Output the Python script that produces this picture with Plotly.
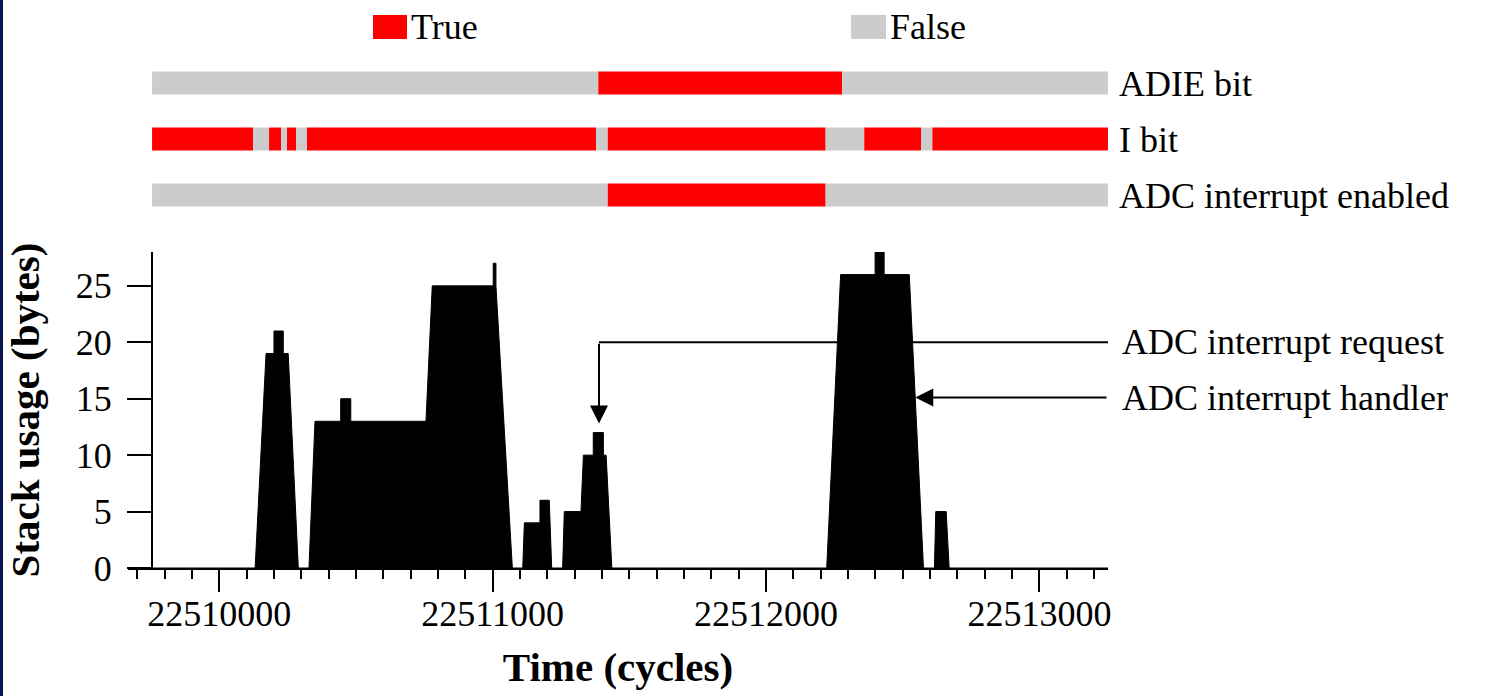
import plotly.graph_objects as go

# ---------------- data ----------------
# stack usage profile (time in cycles, bytes)
STACK_T = [
    22509754, 22510131, 22510171, 22510200, 22510200, 22510234, 22510234, 22510252, 22510289,
    22510328, 22510350, 22510444, 22510444, 22510481, 22510481, 22510756, 22510779, 22511002,
    22511002, 22511012, 22511012, 22511072,
    22511110, 22511116, 22511173, 22511173, 22511207, 22511216,
    22511256, 22511262, 22511323, 22511332, 22511368, 22511368, 22511405, 22511405, 22511415, 22511436,
    22512222, 22512273, 22512399, 22512399, 22512432, 22512432, 22512524, 22512576,
    22512616, 22512621, 22512659, 22512670,
    22513251,
]
STACK_V = [
    0, 0, 19, 19, 21, 21, 19, 19, 0,
    0, 13, 13, 15, 15, 13, 13, 25, 25,
    27, 27, 25, 0,
    0, 4, 4, 6, 6, 0,
    0, 5, 5, 10, 10, 12, 12, 10, 10, 0,
    0, 26, 26, 28, 28, 26, 26, 0,
    0, 5, 5, 0,
    0,
]

# state rows: transition times and the state of each interval
ROW_NAMES = ["ADIE bit", "I bit", "ADC interrupt enabled"]
ADIE_EDGES = [22509754, 22511386, 22512279, 22513251]
ADIE_STATES = [False, True, False]
IBIT_EDGES = [22509754, 22510124, 22510182, 22510226, 22510247, 22510281, 22510320,
              22511378, 22511420, 22512218, 22512359, 22512567, 22512608, 22513251]
IBIT_STATES = [True, False, True, False, True, False, True, False, True, False, True, False, True]
ADCEN_EDGES = [22509754, 22511420, 22512218, 22513251]
ADCEN_STATES = [False, True, False]

X_TICKS = [22510000, 22511000, 22512000, 22513000]
X_TICK_LABELS = ["22510000", "22511000", "22512000", "22513000"]
Y_TICKS = [0, 5, 10, 15, 20, 25]

# annotation anchor points (data coords)
REQ_T, REQ_TIP, REQ_LEVEL = 22511389, 12.8, 20
HDL_T, HDL_LEVEL = 22512546, 15.1

# ---------------- layout constants ----------------
W, H = 1500, 696
X_RANGE = [22509666, 22513251]
FONT = "Liberation Serif"
RED = "#ff0000"
GRAY = "#cccccc"


def px(p):
    return p / W


def py(p):
    return 1 - p / H


fig = go.Figure()

fig.add_trace(go.Scatter(
    x=STACK_T, y=STACK_V, mode="lines", fill="tozeroy",
    line=dict(color="black", width=1), fillcolor="black",
    xaxis="x", yaxis="y", showlegend=False, hoverinfo="skip",
))

rows = [(ROW_NAMES[0], ADIE_EDGES, ADIE_STATES),
        (ROW_NAMES[1], IBIT_EDGES, IBIT_STATES),
        (ROW_NAMES[2], ADCEN_EDGES, ADCEN_STATES)]
for state, color, name in [(True, RED, "True"), (False, GRAY, "False")]:
    ys, bases, lens = [], [], []
    for rname, edges, states in rows:
        for i, s in enumerate(states):
            if s == state:
                ys.append(rname)
                bases.append(edges[i])
                lens.append(edges[i + 1] - edges[i])
    fig.add_trace(go.Bar(
        y=ys, x=lens, base=bases, orientation="h", name=name,
        marker=dict(color=color, line=dict(width=0)), width=0.41,
        xaxis="x2", yaxis="y2", showlegend=False, hoverinfo="skip",
    ))

axis_font = dict(family=FONT, size=36, color="black")
title_font = dict(family=FONT, size=41, color="black")

fig.update_layout(
    width=W, height=H,
    margin=dict(l=0, r=0, t=0, b=0, autoexpand=False),
    paper_bgcolor="white", plot_bgcolor="white",
    barmode="overlay",
    font=dict(family=FONT, size=36, color="black"),
    xaxis=dict(
        domain=[px(128), px(1108)], range=X_RANGE, anchor="y", automargin=False,
        showgrid=False, zeroline=False, showline=True, linecolor="black", linewidth=2,
        ticks="outside", ticklen=22, tickwidth=2, tickcolor="black",
        tickvals=X_TICKS, ticktext=X_TICK_LABELS, tickfont=axis_font, ticklabelstandoff=-9,
        minor=dict(ticks="outside", ticklen=9, tickwidth=2, tickcolor="black",
                   dtick=100, tick0=22510000, showgrid=False),
        title=dict(text="<b>Time (cycles)</b>", font=title_font, standoff=19),
    ),
    yaxis=dict(
        domain=[py(568), py(252)], range=[0, 28], anchor="free", position=px(152), automargin=False,
        showgrid=False, zeroline=False, showline=True, linecolor="black", linewidth=2,
        ticks="outside", ticklen=24, tickwidth=2, tickcolor="black",
        tickvals=Y_TICKS, tickfont=axis_font, ticklabelstandoff=8,
        title=dict(text="<b>Stack usage (bytes)</b>", font=title_font, standoff=22),
    ),
    xaxis2=dict(
        domain=[px(128), px(1108)], range=X_RANGE, anchor="y2", visible=False, automargin=False,
    ),
    yaxis2=dict(
        domain=[py(223), py(55)], anchor="x2", type="category", automargin=False,
        categoryorder="array", categoryarray=ROW_NAMES[::-1], range=[-0.5, 2.5],
        side="right", showgrid=False, zeroline=False, showline=False, ticks="",
        tickfont=axis_font, ticklabelstandoff=10,
    ),
)

# request arrow: horizontal leader + vertical arrow
fig.add_shape(type="line", xref="x", yref="y", x0=REQ_T, x1=X_RANGE[1], y0=REQ_LEVEL, y1=REQ_LEVEL,
              line=dict(color="black", width=2))
fig.add_annotation(x=REQ_T, y=REQ_TIP, ax=REQ_T, ay=REQ_LEVEL, xref="x", yref="y", axref="x", ayref="y",
                   showarrow=True, arrowhead=2, arrowsize=1.8, arrowwidth=2, arrowcolor="black",
                   standoff=0, text="")
fig.add_annotation(x=HDL_T, y=HDL_LEVEL, ax=X_RANGE[1], ay=HDL_LEVEL, xref="x", yref="y", axref="x", ayref="y",
                   showarrow=True, arrowhead=2, arrowsize=1.8, arrowwidth=2, arrowcolor="black",
                   standoff=0, text="")
fig.add_annotation(x=px(1120), y=REQ_LEVEL, xref="paper", yref="y", text="ADC interrupt request",
                   showarrow=False, xanchor="left", yanchor="middle", font=axis_font)
fig.add_annotation(x=px(1120), y=HDL_LEVEL, xref="paper", yref="y", text="ADC interrupt handler",
                   showarrow=False, xanchor="left", yanchor="middle", font=axis_font)

# legend (manual, large swatches)
for x0, x1, color, label in [(373, 407, RED, "True"), (851, 886, GRAY, "False")]:
    fig.add_shape(type="rect", xref="paper", yref="paper", x0=px(x0), x1=px(x1), y0=py(39), y1=py(15),
                  fillcolor=color, line=dict(width=0))
    fig.add_annotation(x=px(x1 + 2), y=py(27), xref="paper", yref="paper", text=label,
                       showarrow=False, xanchor="left", yanchor="middle", font=axis_font)

# navy left border
fig.add_shape(type="rect", xref="paper", yref="paper", x0=0, x1=px(3), y0=0, y1=1,
              fillcolor="#0a1650", line=dict(width=0), layer="above")

fig.write_html(
    "out.html",
    config={"displayModeBar": False},
    post_script="document.body.style.margin='0';document.documentElement.style.overflow='hidden';",
)
